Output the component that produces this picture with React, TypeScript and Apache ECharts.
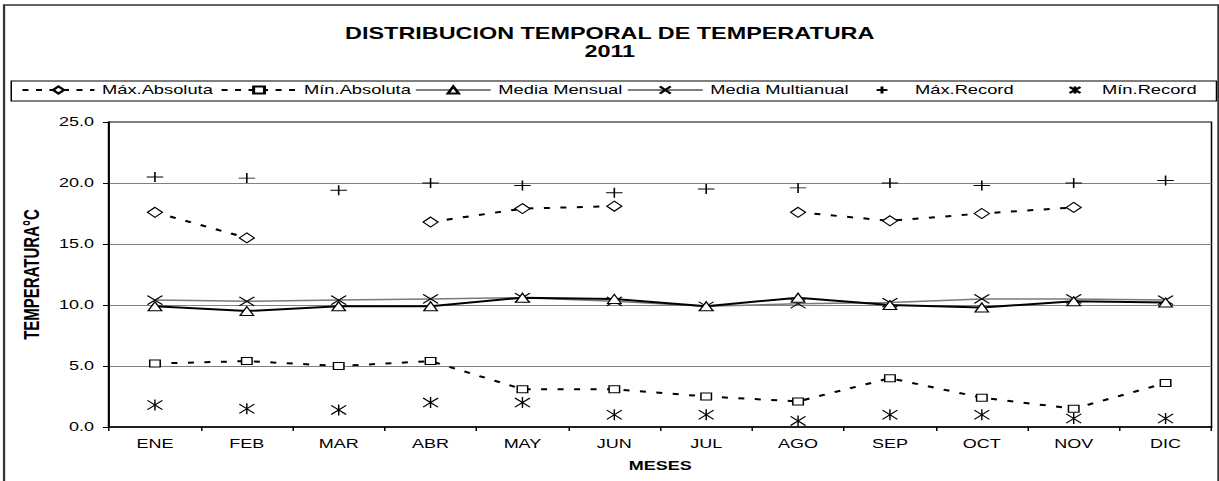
import React, { useEffect, useRef } from "react";
import * as echarts from "echarts";

// ---- data ----
const months = ["ENE", "FEB", "MAR", "ABR", "MAY", "JUN", "JUL", "AGO", "SEP", "OCT", "NOV", "DIC"];
const maxAbsoluta = [17.6, 15.5, null, 16.8, 17.9, 18.1, null, 17.6, 16.9, 17.5, 18.0, null];
const minAbsoluta = [5.2, 5.4, 5.0, 5.4, 3.1, 3.1, 2.5, 2.1, 4.0, 2.4, 1.5, 3.6];
const mediaMensual = [9.9, 9.5, 9.9, 9.9, 10.6, 10.5, 9.9, 10.6, 10.0, 9.8, 10.3, 10.2];
const mediaMultianual = [10.4, 10.3, 10.4, 10.5, 10.6, 10.3, 9.9, 10.1, 10.2, 10.5, 10.5, 10.4];
const maxRecord = [20.5, 20.4, 19.4, 20.0, 19.8, 19.2, 19.5, 19.6, 20.0, 19.8, 20.0, 20.2];
const minRecord = [1.8, 1.5, 1.4, 2.0, 2.0, 1.0, 1.0, 0.5, 1.0, 1.0, 0.7, 0.7];
const seriesNames = ["Máx.Absoluta", "Mín.Absoluta", "Media Mensual", "Media Multianual", "Máx.Record", "Mín.Record"];
const titleText = "DISTRIBUCION TEMPORAL DE TEMPERATURA";
const yearText = "2011";
const xName = "MESES";
const yName = "TEMPERATURA°C";

// ---- layout (chart drawn at 813px wide then stretched horizontally 1.5x, like the original) ----
const SX = 1.5;
const W = 813;
const H = 481;
const FONT = '"Liberation Sans", Arial, Helvetica, sans-serif';

const PLUS = "path://M0,5L10,5M5,0L5,10";
const CROSS = "path://M0,0L10,10M10,0L0,10";
const STAR = "path://M0,0L10,10M10,0L0,10M5,-1L5,11";

const legendPos = [
  { left: 14, w: 48 },
  { left: 146.7, w: 50 },
  { left: 276.7, w: 50 },
  { left: 418, w: 50 },
  { left: 571, w: 34 },
  { left: 703.7, w: 26 },
];

export default function App() {
  const ref = useRef<HTMLDivElement>(null);
  useEffect(() => {
    if (!ref.current) return;
    const chart = echarts.init(ref.current, null, { renderer: "svg" });
    const hollow = { color: "#fff", borderColor: "#000", borderWidth: 1 };
    const stroked = { color: "#000", borderColor: "#000", borderWidth: 1 };
    const dashed = { color: "#000", width: 2, type: [4, 7] as number[] };
    const legendLines = [
      { color: "#000", width: 2, type: [4, 5] },
      { color: "#000", width: 2, type: [4, 5] },
      { color: "#000", width: 1, type: "solid" },
      { color: "#000", width: 1, type: "solid" },
      { color: "#000", width: 0, type: "solid", opacity: 0 },
      { color: "#000", width: 0, type: "solid", opacity: 0 },
    ];
    const common = {
      type: "line" as const,
      showSymbol: true,
      showAllSymbol: true,
      connectNulls: false,
      emphasis: { disabled: true },
    };
    chart.setOption({
      animation: false,
      backgroundColor: "#fff",
      textStyle: { fontFamily: FONT, color: "#000" },
      title: {
        text: titleText + "\n" + yearText,
        left: "center",
        top: 25,
        padding: 0,
        textStyle: { fontFamily: FONT, fontSize: 15.6, fontWeight: "bold", color: "#000", lineHeight: 18 },
      },
      legend: seriesNames.map((n, i) => ({
        data: [n],
        left: legendPos[i].left,
        top: 84,
        padding: 0,
        itemWidth: legendPos[i].w,
        itemHeight: 9,
        itemGap: 0,
        selectedMode: false,
        textStyle: { fontFamily: FONT, fontSize: 12.2, color: "#000" },
        lineStyle: legendLines[i],
      })),
      graphic: [
        {
          type: "rect",
          silent: true,
          z: -10,
          shape: { x: 2.7, y: 5, width: 809.6, height: 500 },
          style: { fill: "none", stroke: "#333", lineWidth: 1.5 },
        },
        {
          type: "rect",
          silent: true,
          z: -10,
          shape: { x: 7.5, y: 81, width: 803.5, height: 20 },
          style: { fill: "none", stroke: "#000", lineWidth: 1 },
        },
      ],
      grid: {
        left: 72.67,
        right: 5.33,
        top: 122,
        bottom: 54,
        show: true,
        borderColor: "#000",
        borderWidth: 1,
        backgroundColor: "transparent",
      },
      xAxis: {
        type: "category",
        data: months,
        boundaryGap: true,
        axisLine: { lineStyle: { color: "#000", width: 1.5 } },
        axisTick: { show: true, interval: 0, length: 4, lineStyle: { color: "#000", width: 1 } },
        axisLabel: { interval: 0, color: "#000", fontSize: 12, margin: 11, fontFamily: FONT },
        splitLine: { show: false },
        name: xName,
        nameLocation: "middle",
        nameGap: 33,
        nameTextStyle: { fontFamily: FONT, fontWeight: "bold", fontSize: 12, color: "#000" },
      },
      yAxis: {
        type: "value",
        min: 0,
        max: 25,
        interval: 5,
        axisLine: { show: true, lineStyle: { color: "#000", width: 1.3 } },
        axisTick: { show: true, length: 4, lineStyle: { color: "#000", width: 1 } },
        axisLabel: {
          color: "#000",
          fontSize: 12,
          margin: 10,
          fontFamily: FONT,
          formatter: (v: number) => v.toFixed(1),
        },
        splitLine: { show: true, showMinLine: false, showMaxLine: false, lineStyle: { color: "#808080", width: 1 } },
        name: yName,
        nameLocation: "middle",
        nameRotate: 90,
        nameGap: 34,
        nameTextStyle: { fontFamily: FONT, fontWeight: "bold", fontSize: 15, color: "#000" },
      },
      series: [
        { ...common, name: seriesNames[0], data: maxAbsoluta, symbol: "diamond", symbolSize: 10, itemStyle: hollow, lineStyle: dashed, z: 3 },
        { ...common, name: seriesNames[1], data: minAbsoluta, symbol: "rect", symbolSize: 7, itemStyle: hollow, lineStyle: dashed, z: 3 },
        { ...common, name: seriesNames[3], data: mediaMultianual, symbol: CROSS, symbolSize: [10, 9], itemStyle: stroked, lineStyle: { color: "#7a7a7a", width: 1.5 }, z: 2 },
        { ...common, name: seriesNames[2], data: mediaMensual, symbol: "triangle", symbolSize: 9, itemStyle: hollow, lineStyle: { color: "#000", width: 2 }, z: 3 },
        { ...common, name: seriesNames[4], data: maxRecord, symbol: PLUS, symbolSize: [11, 10], itemStyle: stroked, lineStyle: { color: "#000", width: 0 }, z: 4 },
        { ...common, name: seriesNames[5], data: minRecord, symbol: STAR, symbolSize: [10, 11], itemStyle: stroked, lineStyle: { color: "#000", width: 0 }, z: 4 },
      ],
    });
    return () => chart.dispose();
  }, []);

  return (
    <div style={{ position: "absolute", left: 0, top: 0, width: 1219, height: H, overflow: "hidden", background: "#fff" }}>
      <div ref={ref} style={{ width: W, height: H, transform: `scaleX(${SX})`, transformOrigin: "0 0" }} />
    </div>
  );
}
